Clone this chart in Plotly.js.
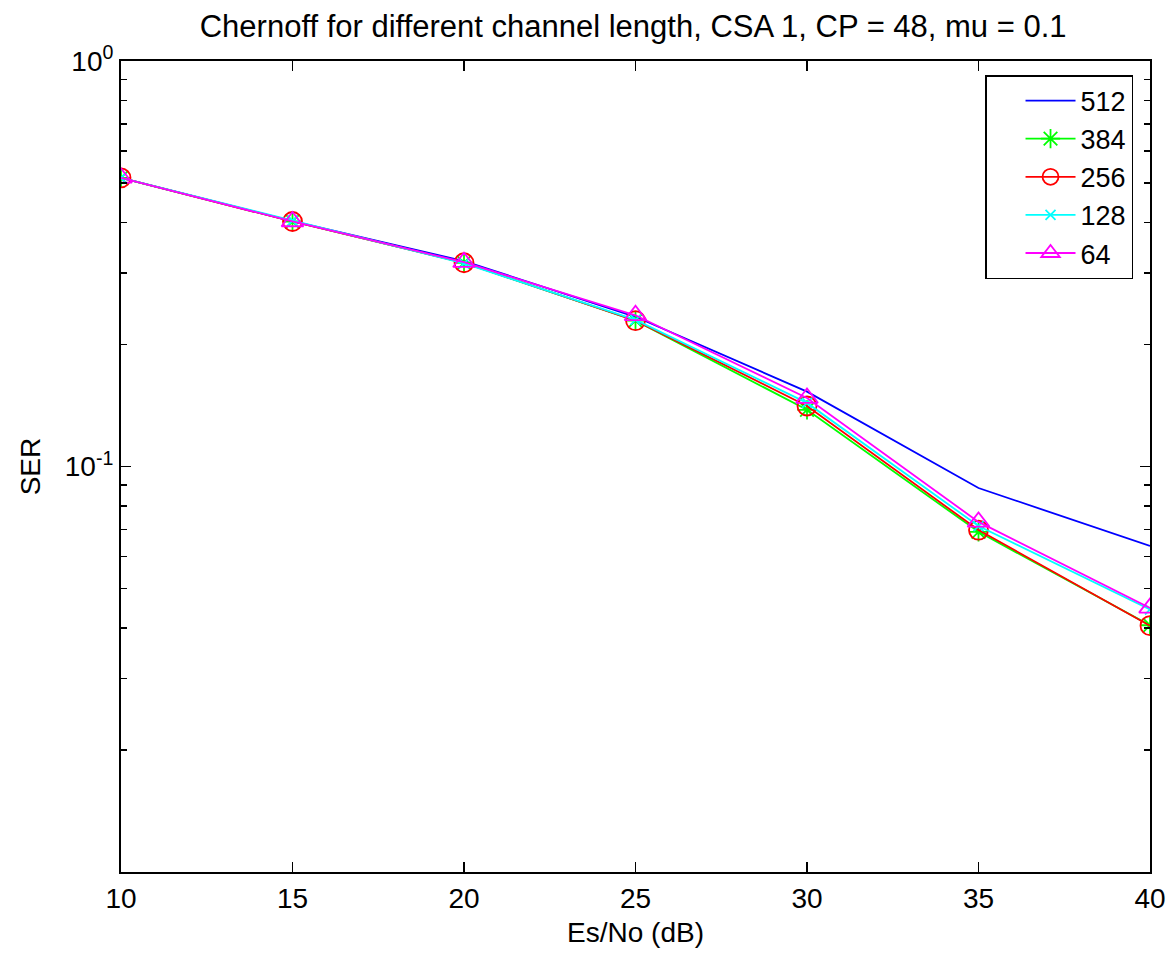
<!DOCTYPE html>
<html>
<head>
<meta charset="utf-8">
<script src="https://cdn.plot.ly/plotly-3.0.1.min.js"></script>
<style>html,body{margin:0;padding:0;background:#fff;}#chart{width:1166px;height:954px;}</style>
</head>
<body>
<div id="chart"></div>
<script>
var esno = [10, 15, 20, 25, 30, 35, 40];
var ser512 = [0.515, 0.403, 0.321, 0.234, 0.153, 0.0885, 0.0637];
var ser384 = [0.515, 0.402, 0.318, 0.229, 0.138, 0.0690, 0.0406];
var ser256 = [0.515, 0.402, 0.318, 0.229, 0.141, 0.0697, 0.0405];
var ser128 = [0.515, 0.404, 0.317, 0.230, 0.1435, 0.0713, 0.0444];
var ser64  = [0.515, 0.402, 0.319, 0.236, 0.1475, 0.0730, 0.0448];
var seriesNames = ['512', '384', '256', '128', '64'];
var yMajorVals = [0.1, 1];
var yMajorText = ['10<sup>-1</sup>', '10<sup>0</sup>'];
var yMinorVals = [0.02,0.03,0.04,0.05,0.06,0.07,0.08,0.09,0.2,0.3,0.4,0.5,0.6,0.7,0.8,0.9];
var xTickVals = [10, 15, 20, 25, 30, 35, 40];

var fontFam = 'Liberation Sans, Arial, sans-serif';
var fs = 28;
var traces = [
  {x: esno, y: ser512, name: seriesNames[0], mode: 'lines', line: {color: '#0000ff', width: 1.8}},
  {x: esno, y: ser384, name: seriesNames[1], mode: 'lines+markers', line: {color: '#00ff00', width: 1.8},
   marker: {symbol: 'asterisk-open', size: 16, line: {color: '#00ff00', width: 1.8}}},
  {x: esno, y: ser256, name: seriesNames[2], mode: 'lines+markers', line: {color: '#ff0000', width: 1.8},
   marker: {symbol: 'circle-open', size: 19, line: {color: '#ff0000', width: 1.8}}},
  {x: esno, y: ser128, name: seriesNames[3], mode: 'lines+markers', line: {color: '#00ffff', width: 1.8},
   marker: {symbol: 'x-thin-open', size: 10, line: {color: '#00ffff', width: 1.8}}},
  {x: esno, y: ser64, name: seriesNames[4], mode: 'lines+markers', line: {color: '#ff00ff', width: 1.8},
   marker: {symbol: 'triangle-up-open', size: 19, line: {color: '#ff00ff', width: 1.8}}}
];

var layout = {
  width: 1166, height: 954,
  margin: {l: 121, r: 16, t: 61, b: 82},
  paper_bgcolor: '#ffffff', plot_bgcolor: '#ffffff',
  font: {family: fontFam, size: fs, color: '#000'},
  title: {text: 'Chernoff for different channel length, CSA 1, CP = 48, mu = 0.1',
          x: 0.543, xanchor: 'center', y: 0.973, yanchor: 'middle',
          font: {family: fontFam, size: 31, color: '#000'}},
  xaxis: {
    title: {text: 'Es/No (dB)', font: {size: fs}, standoff: 10},
    range: [10, 40], tickmode: 'array', tickvals: xTickVals,
    ticks: 'inside', ticklen: 10, tickwidth: 1.5, tickcolor: '#000',
    showline: true, linecolor: '#000', linewidth: 2, mirror: 'ticks',
    showgrid: false, zeroline: false, tickfont: {size: fs}, ticklabeloverflow: 'allow'
  },
  yaxis: {
    title: {text: 'SER', font: {size: fs}, standoff: 16},
    type: 'log', range: [-2, 0], tickmode: 'array', tickvals: yMajorVals, ticktext: yMajorText,
    ticks: 'inside', ticklen: 10, tickwidth: 1.5, tickcolor: '#000',
    showline: true, linecolor: '#000', linewidth: 2, mirror: 'ticks',
    showgrid: false, zeroline: false, tickfont: {size: fs},
    minor: {tickmode: 'array', tickvals: yMinorVals, ticks: 'inside', ticklen: 6, tickwidth: 1.5, tickcolor: '#000', showgrid: false}
  },
  legend: {
    x: 0.9835, xanchor: 'right', y: 0.9827, yanchor: 'top',
    bordercolor: '#000', borderwidth: 1.5, bgcolor: '#fff',
    font: {size: 27}, tracegroupgap: 0, itemwidth: 50, indentation: 34
  },
  showlegend: true
};

Plotly.newPlot('chart', traces, layout, {displayModeBar: false, staticPlot: true});
</script>
</body>
</html>
